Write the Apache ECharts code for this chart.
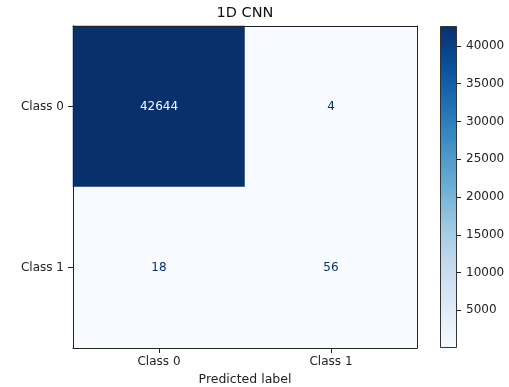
<!DOCTYPE html>
<html>
<head>
<meta charset="utf-8">
<script src="https://cdn.jsdelivr.net/npm/echarts@6/dist/echarts.min.js"></script>
<style>
  html, body { margin: 0; padding: 0; background: #fff; }
  #chart { width: 509px; height: 387px; }
</style>
</head>
<body>
<div id="chart"></div>
<script>
// Confusion matrix of the 1D CNN classifier
const classes = ['Class 0', 'Class 1'];
// rows: true label, columns: predicted label
const row0 = [42644, 4];
const row1 = [18, 56];
const matrix = [row0, row1];
const colorbarTicks = [5000, 10000, 15000, 20000, 25000, 30000, 35000, 40000];
// matplotlib "Blues" colormap stops
const blues = ['#f7fbff', '#deebf7', '#c6dbef', '#9ecae1', '#6baed6',
               '#4292c6', '#2171b5', '#08519c', '#08306b'];

const allValues = matrix.flat();
const vMin = Math.min(...allValues);
const vMax = Math.max(...allValues);
const mid = (vMin + vMax) / 2;

const cells = [];
matrix.forEach((row, r) => {
  row.forEach((v, c) => {
    cells.push({
      value: [c, r, v],
      label: { color: v > mid ? blues[0] : blues[blues.length - 1] }
    });
  });
});

const font = 'DejaVu Sans';
const ink = '#222';

const chart = echarts.init(document.getElementById('chart'), null, { renderer: 'canvas' });
chart.setOption({
  animation: false,
  backgroundColor: '#fff',
  textStyle: { fontFamily: font },
  title: {
    text: '1D CNN',
    left: 245,
    textAlign: 'center',
    top: 6,
    padding: 0,
    textStyle: { fontFamily: font, fontSize: 14.5, fontWeight: 'normal', color: '#111' }
  },
  grid: [
    { left: 73, top: 26, width: 344, height: 322, containLabel: false, outerBoundsMode: 'none' },
    { left: 440, top: 26, width: 17, height: 322, containLabel: false, outerBoundsMode: 'none' }
  ],
  visualMap: {
    show: false,
    seriesIndex: 0,
    min: vMin,
    max: vMax,
    inRange: { color: blues }
  },
  xAxis: [
    {
      type: 'category', gridIndex: 0, data: classes, position: 'bottom', z: 5,
      axisLine: { show: true, lineStyle: { color: ink, width: 1 } },
      axisTick: { show: true, alignWithLabel: true, length: 5, lineStyle: { color: ink } },
      axisLabel: { fontSize: 12, color: ink, margin: 8, fontFamily: font },
      splitLine: { show: false },
      name: 'Predicted label', nameLocation: 'middle', nameGap: 25,
      nameTextStyle: { fontSize: 12.5, color: ink, fontFamily: font }
    },
    {
      type: 'category', gridIndex: 0, data: classes, position: 'top', z: 5,
      axisLine: { show: true, lineStyle: { color: ink, width: 1 } },
      axisTick: { show: false }, axisLabel: { show: false }, splitLine: { show: false }
    },
    { type: 'category', gridIndex: 1, data: [''], show: false }
  ],
  yAxis: [
    {
      type: 'category', gridIndex: 0, data: classes, inverse: true, position: 'left', z: 5,
      axisLine: { show: true, lineStyle: { color: ink, width: 1 } },
      axisTick: { show: true, alignWithLabel: true, length: 5, lineStyle: { color: ink } },
      axisLabel: { fontSize: 12, color: ink, margin: 9, fontFamily: font },
      splitLine: { show: false },
      name: 'True label', nameLocation: 'middle', nameGap: 56, nameRotate: 90,
      nameTextStyle: { fontSize: 12.5, color: '#999', fontFamily: font }
    },
    {
      type: 'category', gridIndex: 0, data: classes, inverse: true, position: 'right', z: 5,
      axisLine: { show: true, lineStyle: { color: ink, width: 1 } },
      axisTick: { show: false }, axisLabel: { show: false }, splitLine: { show: false }
    },
    {
      type: 'value', gridIndex: 1, min: vMin, max: vMax, position: 'right',
      axisLine: { show: false },
      axisTick: { show: true, length: 4, customValues: colorbarTicks, lineStyle: { color: ink } },
      axisLabel: {
        fontSize: 12, color: ink, margin: 9, fontFamily: font,
        customValues: colorbarTicks, formatter: v => String(v)
      },
      splitLine: { show: false }
    }
  ],
  series: [
    {
      type: 'heatmap',
      xAxisIndex: 0, yAxisIndex: 0,
      data: cells,
      label: {
        show: true, fontSize: 12, fontFamily: font,
        formatter: p => String(p.value[2])
      },
      emphasis: { disabled: true },
      itemStyle: { borderWidth: 0 }
    },
    {
      type: 'bar',
      xAxisIndex: 2, yAxisIndex: 2,
      data: [vMax],
      barWidth: '100%',
      silent: true,
      itemStyle: {
        borderColor: '#333', borderWidth: 1,
        color: {
          type: 'linear', x: 0, y: 1, x2: 0, y2: 0,
          colorStops: blues.map((c, i) => ({ offset: i / (blues.length - 1), color: c }))
        }
      }
    }
  ],
  graphic: [
    // margin strip at the left edge of the figure
    { type: 'rect', left: 0, top: 0, z: 100, shape: { width: 7, height: 387 }, style: { fill: '#fff' } }
  ]
});
</script>
</body>
</html>
